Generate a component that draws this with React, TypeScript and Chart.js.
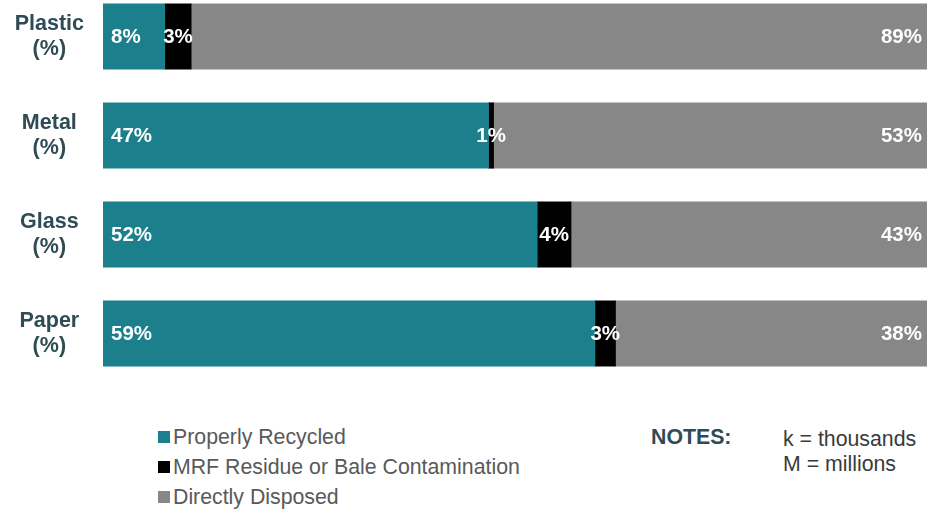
import React, { useEffect, useRef } from "react";
import { Chart, registerables } from "chart.js";

Chart.register(...registerables);

const categories: string[][] = [["Plastic", "(%)"], ["Metal", "(%)"], ["Glass", "(%)"], ["Paper", "(%)"]];
const seriesNames = ["Properly Recycled", "MRF Residue or Bale Contamination", "Directly Disposed"];
const recycled = [7.5, 46.8, 52.7, 59.7];
const residue = [3.2, 0.6, 4.1, 2.5];
const disposed = [89.3, 52.6, 43.2, 37.8];
const recycledLabels = ["8%", "47%", "52%", "59%"];
const residueLabels = ["3%", "1%", "4%", "3%"];
const disposedLabels = ["89%", "53%", "43%", "38%"];
const notesLines = ["k = thousands", "M = millions"];

const COLORS = ["#1B7F8C", "#000000", "#878787"];
const FONT = "'Liberation Sans', Arial, sans-serif";

const labelPlugin = {
  id: "barLabels",
  afterDatasetsDraw(chart: any) {
    const ctx = chart.ctx;
    const labelSets = [recycledLabels, residueLabels, disposedLabels];
    ctx.save();
    ctx.font = `bold 20.5px ${FONT}`;
    ctx.fillStyle = "#ffffff";
    ctx.textBaseline = "middle";
    chart.data.datasets.forEach((_: any, di: number) => {
      const meta = chart.getDatasetMeta(di);
      meta.data.forEach((el: any, i: number) => {
        const text = labelSets[di][i];
        const start = Math.min(el.base, el.x);
        const end = Math.max(el.base, el.x);
        if (di === 0) {
          ctx.textAlign = "left";
          ctx.fillText(text, start + 8, el.y + 1);
        } else if (di === 1) {
          ctx.textAlign = "center";
          ctx.fillText(text, (start + end) / 2, el.y + 1);
        } else {
          ctx.textAlign = "right";
          ctx.fillText(text, end - 5, el.y + 1);
        }
      });
    });
    ctx.restore();
  },
};

export default function App() {
  const ref = useRef<HTMLCanvasElement | null>(null);

  useEffect(() => {
    if (!ref.current) return;
    const chart = new Chart(ref.current, {
      type: "bar",
      data: {
        labels: categories,
        datasets: [
          { label: seriesNames[0], data: recycled, backgroundColor: COLORS[0] },
          { label: seriesNames[1], data: residue, backgroundColor: COLORS[1] },
          { label: seriesNames[2], data: disposed, backgroundColor: COLORS[2] },
        ],
      },
      options: {
        indexAxis: "y",
        responsive: false,
        animation: false,
        layout: { padding: { left: 0, right: 3, top: 0, bottom: 0 } },
        datasets: { bar: { barThickness: 65.5, borderWidth: 0 } } as any,
        plugins: { legend: { display: false }, tooltip: { enabled: false } },
        scales: {
          x: { stacked: true, min: 0, max: 100, display: false },
          y: {
            stacked: true,
            border: { display: false },
            grid: { display: false, drawTicks: false },
            ticks: {
              crossAlign: "center",
              padding: 19,
              color: "#2F4B55",
              font: { family: FONT, size: 21.5, weight: "bold", lineHeight: 1.15 },
            },
            afterFit(scale: any) {
              scale.width = 103;
              scale.paddingTop = 0;
              scale.paddingBottom = 0;
            },
          },
        },
      },
      plugins: [labelPlugin],
    });
    return () => chart.destroy();
  }, []);

  const legendRow = (i: number) => (
    <div
      key={i}
      style={{
        position: "absolute",
        left: 158,
        top: 422 + i * 30,
        height: 30,
        lineHeight: "30px",
        fontFamily: FONT,
        fontSize: 21.3,
        color: "#595959",
        whiteSpace: "nowrap",
        display: "flex",
        alignItems: "center",
      }}
    >
      <span style={{ display: "inline-block", width: 12, height: 12, background: COLORS[i], marginRight: 3 }} />
      <span>{seriesNames[i]}</span>
    </div>
  );

  return (
    <div style={{ position: "absolute", left: 0, top: 0, width: 930, height: 510, overflow: "hidden", background: "#fff" }}>
      <canvas ref={ref} width={930} height={396} style={{ position: "absolute", left: 0, top: -13, width: 930, height: 396 }} />
      {seriesNames.map((_, i) => legendRow(i))}
      <div
        style={{
          position: "absolute",
          left: 651,
          top: 425,
          lineHeight: "25px",
          fontFamily: FONT,
          fontSize: 21.3,
          fontWeight: "bold",
          color: "#2F4B55",
        }}
      >
        NOTES:
      </div>
      <div
        style={{
          position: "absolute",
          left: 783,
          top: 427,
          lineHeight: "25px",
          fontFamily: FONT,
          fontSize: 21.3,
          color: "#3A3A3A",
        }}
      >
        {notesLines.map((t, i) => (
          <div key={i}>{t}</div>
        ))}
      </div>
    </div>
  );
}
